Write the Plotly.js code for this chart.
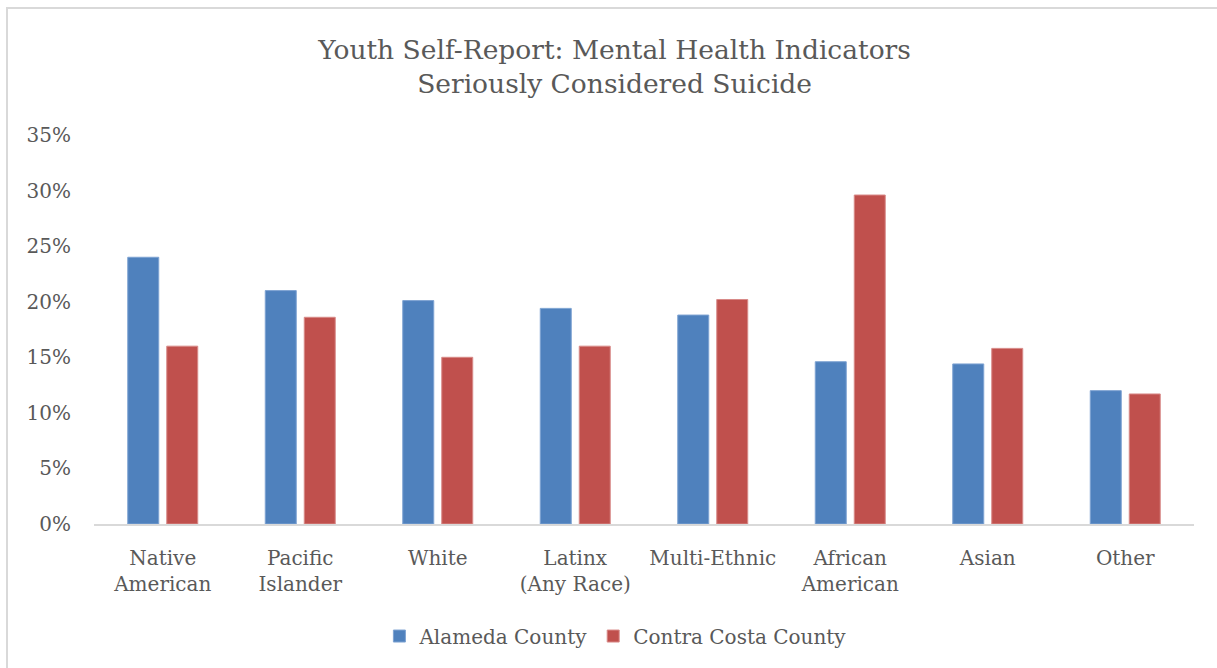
<!DOCTYPE html>
<html>
<head>
<meta charset="utf-8">
<script src="https://cdn.plot.ly/plotly-3.0.1.min.js"></script>
<style>
  html, body { margin: 0; padding: 0; background: #ffffff; }
  #wrap { position: relative; width: 1217px; height: 668px; overflow: hidden; }
  #chart { width: 1217px; height: 668px; }
  #frame { position: absolute; left: 6px; top: 7px; width: 1230px; height: 700px;
           border-left: 2px solid #d9d9d9; border-top: 2px solid #d9d9d9; pointer-events: none; }
</style>
</head>
<body>
<div id="wrap">
  <div id="chart"></div>
  <div id="frame"></div>
</div>
<script>
const categories = [
  "Native<br>American",
  "Pacific<br>Islander",
  "White",
  "Latinx<br>(Any Race)",
  "Multi-Ethnic",
  "African<br>American",
  "Asian",
  "Other"
];
const alamedaValues = [0.240, 0.210, 0.201, 0.194, 0.188, 0.146, 0.144, 0.120];
const contraCostaValues = [0.160, 0.186, 0.150, 0.160, 0.202, 0.296, 0.158, 0.117];
const seriesNames = ["Alameda County", "Contra Costa County"];
const titleLines = ["Youth Self-Report: Mental Health Indicators", "Seriously Considered Suicide"];

const FONT = "'DejaVu Serif', 'Liberation Serif', serif";
const TXT = "#595959";

const traces = [
  {
    type: "bar", name: seriesNames[0], x: categories, y: alamedaValues,
    marker: { color: "#4F81BD", line: { color: "#7ea3d2", width: 1 } },
    hoverinfo: "x+y"
  },
  {
    type: "bar", name: seriesNames[1], x: categories, y: contraCostaValues,
    marker: { color: "#C0504D", line: { color: "#d88a88", width: 1 } },
    hoverinfo: "x+y"
  }
];

const layout = {
  width: 1217, height: 668,
  autosize: false,
  paper_bgcolor: "#ffffff", plot_bgcolor: "#ffffff",
  margin: { l: 94, r: 23, t: 135, b: 144, autoexpand: false },
  font: { family: FONT, color: TXT, size: 19 },
  title: {
    text: titleLines.join("<br>"),
    font: { family: FONT, size: 26.5, color: TXT },
    x: 0.505, xanchor: "center", xref: "container",
    y: 0.912, yanchor: "middle", yref: "container"
  },
  barmode: "group",
  bargap: 0.433,
  bargroupgap: 0.205,
  showlegend: true,
  legend: {
    orientation: "h", x: 0.474, xanchor: "center",
    y: -0.288, yanchor: "middle",
    font: { family: FONT, size: 20, color: TXT },
    traceorder: "normal"
  },
  xaxis: {
    type: "category",
    automargin: false,
    tickangle: 0,
    showline: true, linecolor: "#d9d9d9", linewidth: 2,
    showgrid: false, zeroline: false,
    ticks: "", ticklabelstandoff: 15,
    tickfont: { family: FONT, size: 20, color: TXT },
    fixedrange: true
  },
  yaxis: {
    automargin: false,
    range: [0, 0.35],
    tickvals: [0, 0.05, 0.10, 0.15, 0.20, 0.25, 0.30, 0.35],
    tickformat: ".0%",
    showline: false, showgrid: false, zeroline: false,
    ticks: "", ticklabelstandoff: 22,
    tickfont: { family: FONT, size: 20, color: TXT },
    fixedrange: true
  }
};

Plotly.newPlot("chart", traces, layout, { displayModeBar: false, staticPlot: true });
</script>
</body>
</html>
